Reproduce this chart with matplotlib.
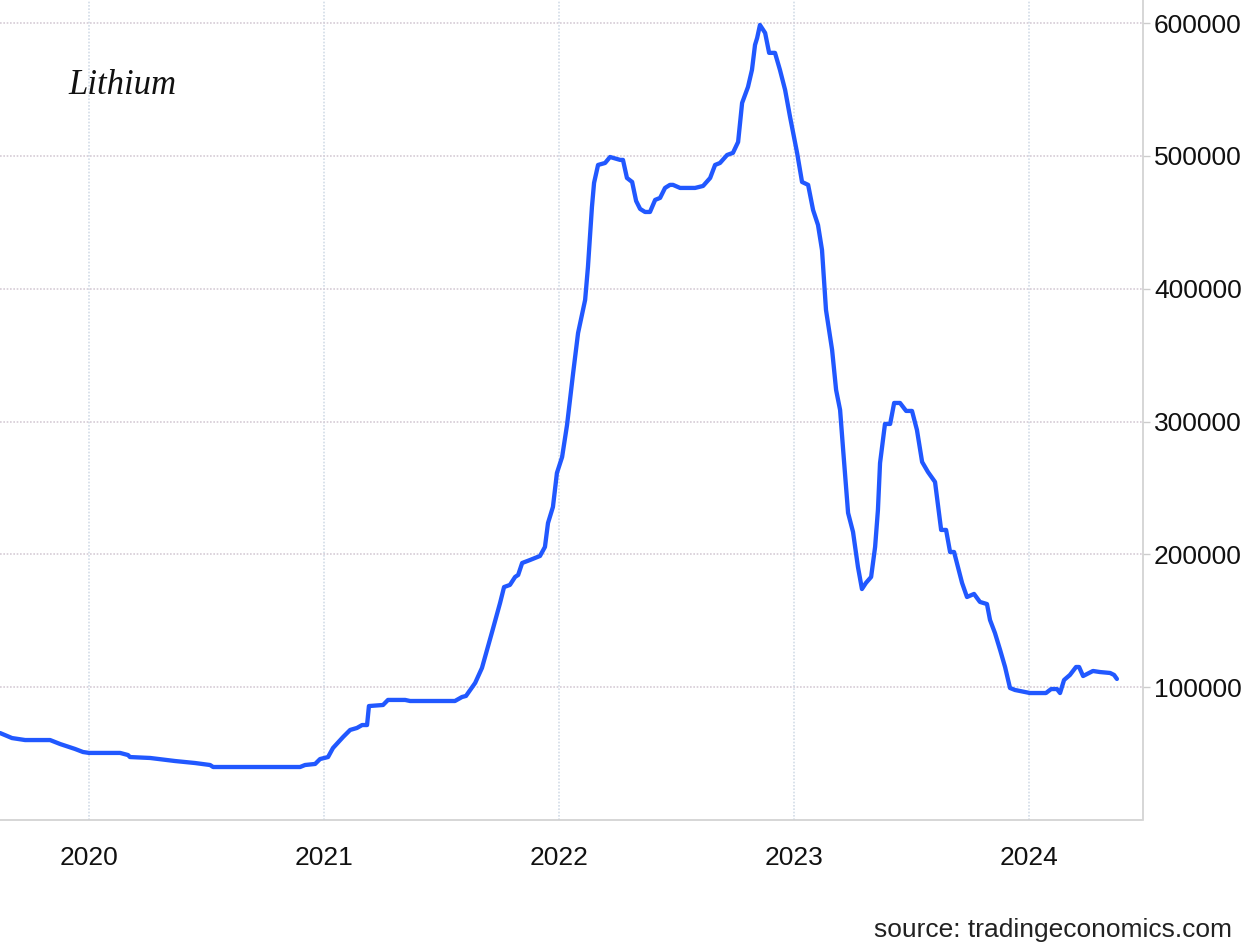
import matplotlib
matplotlib.use("Agg")
import matplotlib.pyplot as plt
from matplotlib.ticker import FixedLocator

# time as fractional years
years = [2019.621, 2019.672, 2019.728, 2019.834, 2019.877, 2019.940, 2019.974, 2020.000,
         2020.132, 2020.166, 2020.174, 2020.260, 2020.366, 2020.451, 2020.515, 2020.528,
         2020.898, 2020.919, 2020.962, 2020.983, 2021.017, 2021.038, 2021.081, 2021.111,
         2021.140, 2021.162, 2021.183, 2021.191, 2021.251, 2021.272, 2021.345, 2021.366,
         2021.557, 2021.587, 2021.604, 2021.643, 2021.672, 2021.715, 2021.749, 2021.766,
         2021.791, 2021.813, 2021.826, 2021.843, 2021.877, 2021.919, 2021.940, 2021.953,
         2021.974, 2021.991, 2022.013, 2022.034, 2022.060, 2022.081, 2022.111, 2022.123,
         2022.140, 2022.149, 2022.166, 2022.196, 2022.217, 2022.260, 2022.272, 2022.289,
         2022.311, 2022.328, 2022.345, 2022.366, 2022.387, 2022.409, 2022.430, 2022.451,
         2022.472, 2022.485, 2022.515, 2022.579, 2022.613, 2022.643, 2022.664, 2022.685,
         2022.715, 2022.740, 2022.762, 2022.779, 2022.804, 2022.821, 2022.834, 2022.843,
         2022.855, 2022.877, 2022.894, 2022.919, 2022.940, 2022.962, 2022.983, 2023.013,
         2023.034, 2023.060, 2023.081, 2023.102, 2023.119, 2023.136, 2023.162, 2023.179,
         2023.196, 2023.209, 2023.230, 2023.251, 2023.272, 2023.289, 2023.306, 2023.328,
         2023.345, 2023.357, 2023.366, 2023.387, 2023.409, 2023.426, 2023.451, 2023.477,
         2023.502, 2023.523, 2023.545, 2023.570, 2023.600, 2023.626, 2023.647, 2023.664,
         2023.681, 2023.715, 2023.736, 2023.766, 2023.791, 2023.821, 2023.834, 2023.855,
         2023.877, 2023.898, 2023.919, 2023.940, 2024.004, 2024.072, 2024.094, 2024.119,
         2024.132, 2024.149, 2024.174, 2024.200, 2024.213, 2024.230, 2024.272, 2024.302,
         2024.345, 2024.362, 2024.374]

price = [65500, 61700, 60200, 60200, 57200, 53500, 51200, 50500,
         50500, 48900, 47400, 46700, 44400, 42900, 41400, 39900,
         39900, 41400, 42200, 45900, 47400, 54200, 62500, 67800,
         69300, 71500, 71500, 85800, 86600, 90400, 90400, 89600,
         89600, 92600, 93400, 103200, 114500, 141600, 163400, 175400,
         177000, 183000, 184500, 193500, 195800, 198800, 205600, 223600,
         235700, 261300, 273300, 297400, 336600, 366700, 391600, 416400,
         461600, 479700, 493200, 494700, 499200, 497000, 497000, 483400,
         480400, 466100, 460100, 457800, 457800, 466900, 468400, 475900,
         478200, 478200, 475900, 475900, 477400, 483400, 493200, 494700,
         500700, 502300, 510500, 539900, 551900, 564800, 583600, 588800,
         598600, 592600, 577600, 577600, 564800, 549700, 529400, 502300,
         480400, 478200, 459300, 448000, 429200, 384000, 353900, 323800,
         308700, 278600, 231200, 216900, 190500, 173900, 178500, 183000,
         205600, 233400, 268800, 298200, 298200, 314000, 314000, 308000,
         308000, 293700, 269600, 262000, 254500, 218400, 218400, 201800,
         201800, 178500, 167900, 170200, 164200, 162600, 150600, 140800,
         128000, 115200, 99400, 97900, 95600, 95600, 98600, 98600,
         95600, 105400, 109200, 115200, 115200, 108400, 112200, 111400,
         110700, 109200, 106200]

year_ticks = [2020, 2021, 2022, 2023, 2024]
year_labels = ["2020", "2021", "2022", "2023", "2024"]
y_ticks = [100000, 200000, 300000, 400000, 500000, 600000]
y_labels = ["100000", "200000", "300000", "400000", "500000", "600000"]

label_font = ["Liberation Sans", "DejaVu Sans"]

fig = plt.figure(figsize=(12.5, 9.48), dpi=100)
ax = fig.add_axes([0.0, 128 / 948, 1143 / 1250, 820 / 948])

ax.plot(years, price, color="#2158ff", linewidth=3.1, solid_joinstyle="round",
        solid_capstyle="round", zorder=3)

ax.set_xlim(2019.621, 2024.485)
ax.set_ylim(0, 617400)

ax.xaxis.set_major_locator(FixedLocator(year_ticks))
ax.set_xticklabels(year_labels)
ax.yaxis.set_major_locator(FixedLocator(y_ticks))
ax.set_yticklabels(y_labels)
ax.yaxis.tick_right()

for lab in ax.get_xticklabels() + ax.get_yticklabels():
    lab.set_family(label_font)
    lab.set_fontstretch("condensed")
    lab.set_fontsize(19)
    lab.set_color("#111111")

ax.tick_params(axis="x", length=0, pad=19)
ax.tick_params(axis="y", length=5, width=1, color="#cccccc", pad=3, direction="out")

ax.grid(axis="y", color="#d6ccd6", linestyle=(0, (1, 1)), linewidth=1.2)
ax.grid(axis="x", color="#d3dde8", linestyle=(0, (1, 1)), linewidth=1.2)

for s in ["left", "top"]:
    ax.spines[s].set_visible(False)
ax.spines["right"].set_color("#d0d0d0")
ax.spines["right"].set_linewidth(1.2)
ax.spines["bottom"].set_color("#d0d0d0")
ax.spines["bottom"].set_linewidth(1.2)
ax.spines["bottom"].set_linestyle((0, (1, 1)))

ax.text(68 / 1143, 1 - 86 / 820, "Lithium", transform=ax.transAxes,
        family=["Liberation Serif", "DejaVu Serif"], style="italic", fontsize=25,
        color="#111111", va="center", ha="left")

fig.text(1232 / 1250, 1 - 930 / 948, "source: tradingeconomics.com",
         family=label_font, fontstretch="condensed", fontsize=19, color="#222222",
         ha="right", va="center")

fig.savefig("out.png", dpi=100, facecolor="white")
